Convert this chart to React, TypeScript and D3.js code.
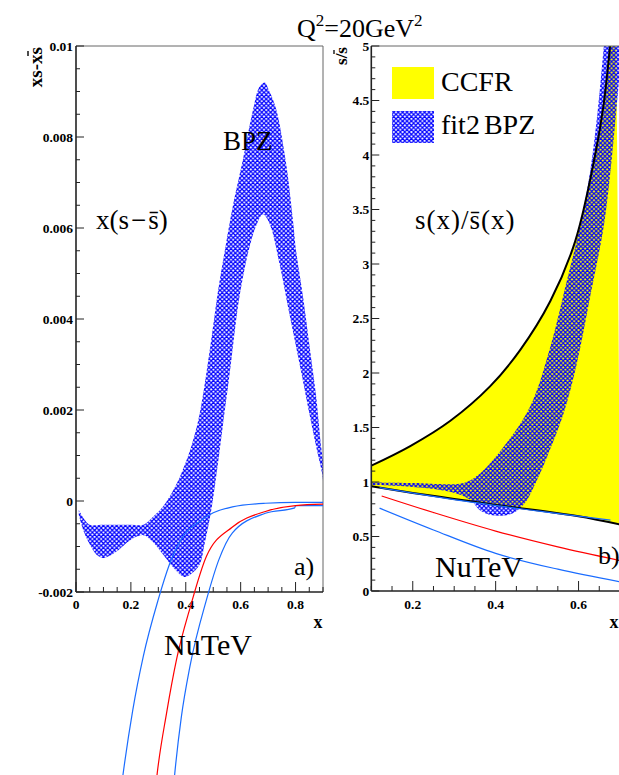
import React from "react";
import * as d3 from "d3";

// ---------- data ----------
// Left panel: x(s - sbar), BPZ error band (upper / lower edges)
const bpzLeftUpper: [number, number][] = [
  [0.01, -0.0002], [0.03, -0.0004], [0.05, -0.00052], [0.1, -0.00052], [0.15, -0.00052],
  [0.2, -0.00052], [0.245, -0.00052], [0.28, -0.00035], [0.32, -0.0001], [0.36, 0.0003],
  [0.39, 0.0007], [0.42, 0.0012], [0.45, 0.0019], [0.487, 0.0033], [0.517, 0.0046],
  [0.545, 0.0056], [0.572, 0.0065], [0.608, 0.0075], [0.645, 0.0086], [0.668, 0.0091],
  [0.687, 0.0092], [0.705, 0.009], [0.73, 0.0086], [0.766, 0.0074], [0.79, 0.0062],
  [0.802, 0.0055], [0.827, 0.0045], [0.851, 0.0034], [0.875, 0.0023], [0.893, 0.0012],
  [0.9, 0.0009],
];
const bpzLeftLower: [number, number][] = [
  [0.01, -0.0003], [0.03, -0.0007], [0.05, -0.00095], [0.075, -0.00118], [0.1, -0.00125],
  [0.125, -0.0012], [0.15, -0.0011], [0.2, -0.00085], [0.245, -0.00075], [0.28, -0.0009],
  [0.32, -0.0012], [0.36, -0.0015], [0.395, -0.00167], [0.42, -0.0016], [0.45, -0.0014],
  [0.47, -0.0009], [0.49, -0.0003], [0.51, 0.0005], [0.536, 0.0017], [0.56, 0.0028],
  [0.572, 0.0034], [0.596, 0.0045], [0.633, 0.0056], [0.66, 0.0061], [0.681, 0.0063],
  [0.705, 0.0061], [0.742, 0.0052], [0.778, 0.0041], [0.815, 0.003], [0.851, 0.0019],
  [0.875, 0.0012], [0.897, 0.0006], [0.9, 0.00045],
];
// Left panel: NuTeV curves
const nutevLeftUpperBlue: [number, number][] = [
  [0.165, -0.0063], [0.172, -0.00598], [0.207, -0.00459], [0.245, -0.00342], [0.299, -0.00218],
  [0.34, -0.0014], [0.389, -0.00079], [0.45, -0.00045], [0.5, -0.00026], [0.57, -0.00013],
  [0.69, -0.00005], [0.8, -0.00003], [0.9, -0.00003],
];
const nutevLeftRed: [number, number][] = [
  [0.29, -0.0063], [0.296, -0.00598], [0.33, -0.00466], [0.366, -0.00349], [0.417, -0.00232],
  [0.475, -0.00122], [0.57, -0.00057], [0.69, -0.00023], [0.8, -0.0001], [0.9, -0.00007],
];
const nutevLeftLowerBlue: [number, number][] = [
  [0.355, -0.0063], [0.36, -0.00598], [0.384, -0.00474], [0.415, -0.00364], [0.475, -0.00218],
  [0.52, -0.0013], [0.57, -0.0007], [0.69, -0.00027], [0.797, -0.00015], [0.8, -0.0001],
  [0.9, -0.0001],
];

// Right panel: s / sbar
const ccfrUpper: [number, number][] = [
  [0.1, 1.15], [0.194, 1.33], [0.29, 1.56], [0.387, 1.88], [0.459, 2.21], [0.532, 2.66],
  [0.592, 3.21], [0.64, 4.0], [0.66, 4.45], [0.676, 5.0], [0.69, 5.6],
];
const ccfrLower: [number, number][] = [
  [0.1, 0.96], [0.2, 0.9], [0.3, 0.845], [0.4, 0.79], [0.5, 0.74], [0.6, 0.685], [0.7, 0.61],
];
const bpzRightUpper: [number, number][] = [
  [0.1, 0.995], [0.2, 0.99], [0.3, 0.98], [0.33, 1.0], [0.363, 1.08], [0.419, 1.32],
  [0.483, 1.69], [0.532, 2.24], [0.572, 2.85], [0.604, 3.35], [0.628, 3.85], [0.646, 4.4],
  [0.661, 5.0], [0.67, 5.4],
];
const bpzRightLower: [number, number][] = [
  [0.1, 0.972], [0.2, 0.955], [0.291, 0.91], [0.339, 0.835], [0.362, 0.74], [0.385, 0.7],
  [0.411, 0.69], [0.44, 0.71], [0.459, 0.76], [0.475, 0.83], [0.5, 1.02], [0.524, 1.23],
  [0.564, 1.63], [0.596, 2.09], [0.628, 2.7], [0.661, 3.35], [0.677, 3.85], [0.694, 4.53],
  [0.71, 5.2], [0.72, 5.6],
];
const nutevRightUpperBlue: [number, number][] = [
  [0.12, 0.948], [0.3, 0.838], [0.5, 0.735], [0.677, 0.65],
];
const nutevRightRed: [number, number][] = [
  [0.125, 0.872], [0.25, 0.72], [0.4, 0.55], [0.55, 0.405], [0.7, 0.28],
];
const nutevRightLowerBlue: [number, number][] = [
  [0.12, 0.76], [0.25, 0.56], [0.4, 0.345], [0.55, 0.2], [0.7, 0.085],
];

// tick labels
const leftYTicks = [-0.002, 0, 0.002, 0.004, 0.006, 0.008, 0.01];
const leftXTicks = [0, 0.2, 0.4, 0.6, 0.8];
const rightYTicks = [0, 0.5, 1, 1.5, 2, 2.5, 3, 3.5, 4, 4.5, 5];
const rightXTicks = [0.2, 0.4, 0.6];

// ---------- layout ----------
const L = { x0: 76, x1: 323, y0: 46, y1: 592 };
const R = { x0: 371.3, x1: 620, y0: 46, y1: 591 };

const xL = d3.scaleLinear().domain([0, 0.9]).range([L.x0, L.x1]);
const yL = d3.scaleLinear().domain([-0.002, 0.01]).range([L.y1, L.y0]);
const xR = d3.scaleLinear().domain([0.1, 0.7]).range([R.x0, R.x1]);
const yR = d3.scaleLinear().domain([0, 5]).range([R.y1, R.y0]);

const SERIF = "'Liberation Serif', 'Times New Roman', serif";
const BLUE_LINE = "#1a6cff";
const HP = 4.4; // hatch period

function hatchPathD() {
  let d = "";
  for (const k of [-1, 0, 1]) {
    d += `M${-2},${-2 + k * HP}L${HP + 2},${HP + 2 + k * HP}`;
    d += `M${-2},${HP + 2 + k * HP}L${HP + 2},${-2 + k * HP}`;
  }
  return d;
}

function bandPath(
  up: [number, number][],
  lo: [number, number][],
  sx: d3.ScaleLinear<number, number>,
  sy: d3.ScaleLinear<number, number>
) {
  const line = d3
    .line<[number, number]>()
    .x((d) => sx(d[0]))
    .y((d) => sy(d[1]))
    .curve(d3.curveCatmullRom.alpha(0.5));
  const a = line(up) || "";
  const b = (line([...lo].reverse()) || "").replace(/^M/, "L");
  return a + b + "Z";
}

function linePath(
  pts: [number, number][],
  sx: d3.ScaleLinear<number, number>,
  sy: d3.ScaleLinear<number, number>,
  smooth = true
) {
  return (
    d3
      .line<[number, number]>()
      .x((d) => sx(d[0]))
      .y((d) => sy(d[1]))
      .curve(smooth ? d3.curveCatmullRom.alpha(0.5) : d3.curveMonotoneX)(pts) || ""
  );
}

const fmt = (v: number) => String(+v.toFixed(4));

export default function App() {
  const leftYMinor = d3.range(-0.002, 0.01 + 1e-9, 0.0005);
  const leftXMinor = d3.range(0, 0.9 + 1e-9, 0.05);
  const rightYMinor = d3.range(0, 5 + 1e-9, 0.1);
  const rightXMinor = d3.range(0.1, 0.7 + 1e-9, 0.05);

  return (
    <svg
      width={619}
      height={775}
      viewBox="0 0 619 775"
      style={{ position: "absolute", left: 0, top: 0, background: "#fff" }}
      fontFamily={SERIF}
    >
      <defs>
        <pattern id="hatch" patternUnits="userSpaceOnUse" width={HP} height={HP}>
          <path d={hatchPathD()} stroke="#0000ff" strokeWidth={1.2} fill="none" />
        </pattern>
        <clipPath id="clipL">
          <rect x={L.x0} y={L.y0} width={L.x1 - L.x0} height={L.y1 - L.y0} />
        </clipPath>
        <clipPath id="clipR">
          <rect x={R.x0} y={R.y0} width={R.x1 - R.x0 + 5} height={R.y1 - R.y0} />
        </clipPath>
      </defs>
      <rect x={0} y={0} width={619} height={775} fill="#fff" />

      {/* ---------------- Left panel ---------------- */}
      <g clipPath="url(#clipL)">
        <path d={bandPath(bpzLeftUpper, bpzLeftLower, xL, yL)} fill="url(#hatch)" />
      </g>
      {/* frame */}
      <line x1={L.x0} x2={L.x1} y1={L.y0} y2={L.y0} stroke="#666" strokeWidth={1} />
      <line x1={L.x1} x2={L.x1} y1={L.y0} y2={L.y1} stroke="#666" strokeWidth={1} />
      <line x1={L.x0} x2={L.x0} y1={L.y0} y2={L.y1} stroke="#222" strokeWidth={1.6} />
      <line x1={L.x0} x2={L.x1} y1={L.y1} y2={L.y1} stroke="#222" strokeWidth={1.6} />
      {/* y ticks */}
      {leftYMinor.map((v, i) => {
        const major = leftYTicks.some((t) => Math.abs(t - v) < 1e-9);
        return (
          <line key={"lym" + i} x1={L.x0} x2={L.x0 + (major ? 8 : 4)} y1={yL(v)} y2={yL(v)} stroke="#222" strokeWidth={1} />
        );
      })}
      {leftYTicks.map((v) => (
        <text key={"lyt" + v} x={L.x0 - 3} y={yL(v) + 4.5} textAnchor="end" fontSize={13.5} fontWeight="bold">
          {fmt(v)}
        </text>
      ))}
      {/* x ticks */}
      {leftXMinor.map((v, i) => {
        const major = leftXTicks.some((t) => Math.abs(t - v) < 1e-9);
        return (
          <line key={"lxm" + i} x1={xL(v)} x2={xL(v)} y1={L.y1} y2={L.y1 - (major ? 10 : 5)} stroke="#222" strokeWidth={1} />
        );
      })}
      {leftXTicks.map((v) => (
        <text key={"lxt" + v} x={xL(v)} y={609} textAnchor="middle" fontSize={13.5} fontWeight="bold">
          {fmt(v)}
        </text>
      ))}
      <text x={318} y={628} textAnchor="middle" fontSize={18} fontWeight="bold">x</text>
      {/* y title */}
      <g transform="translate(42,47) rotate(-90)">
        <text x={0} y={0} textAnchor="end" fontSize={19} fontWeight="bold">xs-xs</text>
        <line x1={-9} x2={-4} y1={-14} y2={-14} stroke="#000" strokeWidth={1.4} />
      </g>

      {/* NuTeV left (not clipped at bottom) */}
      <path d={linePath(nutevLeftUpperBlue, xL, yL, false)} fill="none" stroke={BLUE_LINE} strokeWidth={1.2} />
      <path d={linePath(nutevLeftLowerBlue, xL, yL, false)} fill="none" stroke={BLUE_LINE} strokeWidth={1.2} />
      <path d={linePath(nutevLeftRed, xL, yL, false)} fill="none" stroke="#ff0000" strokeWidth={1.2} />

      {/* left texts */}
      <text x={96} y={229} fontSize={27}>
        x(s<tspan dx={2}>−</tspan><tspan dx={2}>s̄)</tspan>
      </text>
      <text x={223} y={150} fontSize={27}>BPZ</text>
      <text x={294} y={575} fontSize={26}>a)</text>
      <text x={164} y={655} fontSize={30}>NuTeV</text>

      {/* ---------------- Right panel ---------------- */}
      <g clipPath="url(#clipR)">
        <path d={bandPath(ccfrUpper, ccfrLower, xR, yR)} fill="#ffff00" />
        <path d={bandPath(bpzRightUpper, bpzRightLower, xR, yR)} fill="url(#hatch)" />
        <path d={linePath(ccfrUpper, xR, yR)} fill="none" stroke="#000" strokeWidth={2} />
        <path d={linePath(ccfrLower, xR, yR)} fill="none" stroke="#000" strokeWidth={2} />
        <path d={linePath(nutevRightUpperBlue, xR, yR)} fill="none" stroke={BLUE_LINE} strokeWidth={1.2} />
        <path d={linePath(nutevRightRed, xR, yR)} fill="none" stroke="#ff0000" strokeWidth={1.2} />
        <path d={linePath(nutevRightLowerBlue, xR, yR)} fill="none" stroke={BLUE_LINE} strokeWidth={1.2} />
      </g>
      <line x1={R.x0} x2={619} y1={R.y0} y2={R.y0} stroke="#666" strokeWidth={1} />
      <line x1={R.x0} x2={R.x0} y1={R.y0} y2={R.y1} stroke="#222" strokeWidth={1.6} />
      <line x1={R.x0} x2={619} y1={R.y1} y2={R.y1} stroke="#222" strokeWidth={1.6} />
      {rightYMinor.map((v, i) => {
        const major = rightYTicks.some((t) => Math.abs(t - v) < 1e-9);
        return (
          <line key={"rym" + i} x1={R.x0} x2={R.x0 + (major ? 8 : 4)} y1={yR(v)} y2={yR(v)} stroke="#222" strokeWidth={1} />
        );
      })}
      {rightYTicks.map((v) => (
        <text key={"ryt" + v} x={R.x0 - 2} y={yR(v) + 4.5} textAnchor="end" fontSize={13.5} fontWeight="bold">
          {fmt(v)}
        </text>
      ))}
      {rightXMinor.map((v, i) => {
        const major = rightXTicks.some((t) => Math.abs(t - v) < 1e-9);
        return (
          <line key={"rxm" + i} x1={xR(v)} x2={xR(v)} y1={R.y1} y2={R.y1 - (major ? 10 : 5)} stroke="#222" strokeWidth={1} />
        );
      })}
      {rightXTicks.map((v) => (
        <text key={"rxt" + v} x={xR(v)} y={609} textAnchor="middle" fontSize={13.5} fontWeight="bold">
          {fmt(v)}
        </text>
      ))}
      <text x={614} y={628} textAnchor="middle" fontSize={18} fontWeight="bold">x</text>
      <g transform="translate(347,47) rotate(-90)">
        <text x={0} y={0} textAnchor="end" fontSize={17} fontWeight="bold">s/s</text>
        <line x1={-7} x2={-3} y1={-13} y2={-13} stroke="#000" strokeWidth={1.3} />
      </g>

      {/* legend */}
      <rect x={392} y={67} width={42} height={32} fill="#ffff00" />
      <rect x={392} y={111} width={42} height={32} fill="url(#hatch)" />
      <text x={441} y={91} fontSize={28}>CCFR</text>
      <text x={441} y={134} fontSize={28}>
        fit2<tspan dx={4}>BPZ</tspan>
      </text>

      <text x={415} y={229} fontSize={27} letterSpacing={1}>
        s(x)/s̄(x)
      </text>
      <text x={598} y={564} fontSize={26}>b)</text>
      <text x={435} y={577} fontSize={30}>NuTeV</text>

      {/* title */}
      <text x={297} y={37} fontSize={26}>
        Q<tspan fontSize={17} dy={-11}>2</tspan>
        <tspan dy={11}>=20GeV</tspan>
        <tspan fontSize={17} dy={-11}>2</tspan>
      </text>
    </svg>
  );
}
